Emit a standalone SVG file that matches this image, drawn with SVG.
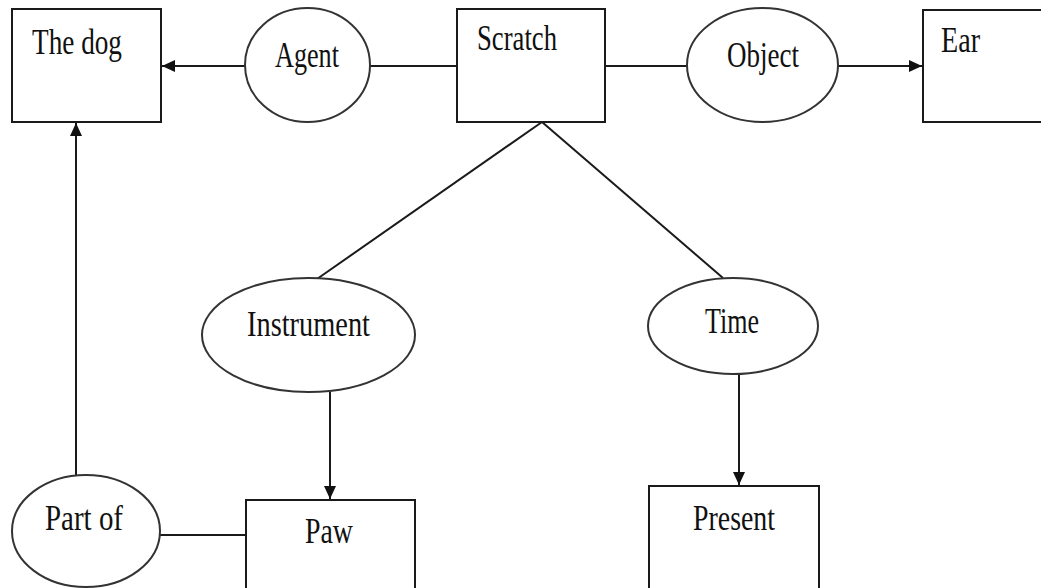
<svg xmlns="http://www.w3.org/2000/svg" width="1041" height="588" viewBox="0 0 1041 588">
  <style>
    .box { fill: #ffffff; stroke: #1a1a1a; stroke-width: 2; }
    .oval { fill: #ffffff; stroke: #333333; stroke-width: 2; }
    .edge { fill: none; stroke: #1a1a1a; stroke-width: 2; }
    .lbl { font-family: "Liberation Serif", "Times New Roman", serif; font-size: 28px; fill: #111111; }
  </style>
  <defs>
    <marker id="arrow" markerUnits="userSpaceOnUse" markerWidth="14" markerHeight="12" refX="13" refY="6" orient="auto">
      <path d="M0,0 L13,6 L0,12 Z" fill="#111111"/>
    </marker>
  </defs>
  <rect width="1041" height="588" fill="#ffffff"/>

  <!-- connectors -->
  <g id="connectors">
    <line class="edge" x1="245" y1="66" x2="162" y2="66" marker-end="url(#arrow)"/>
    <line class="edge" x1="370" y1="66" x2="457" y2="66"/>
    <line class="edge" x1="605" y1="66" x2="687" y2="66"/>
    <line class="edge" x1="838" y1="66" x2="922" y2="66" marker-end="url(#arrow)"/>
    <line class="edge" x1="542" y1="122" x2="317" y2="279"/>
    <line class="edge" x1="542" y1="122" x2="723" y2="278"/>
    <line class="edge" x1="330" y1="392" x2="330" y2="499" marker-end="url(#arrow)"/>
    <line class="edge" x1="739" y1="374" x2="739" y2="485" marker-end="url(#arrow)"/>
    <line class="edge" x1="76" y1="476" x2="76" y2="123" marker-end="url(#arrow)"/>
    <line class="edge" x1="160" y1="535" x2="246" y2="535"/>
  </g>

  <!-- concept boxes -->
  <g id="the-dog">
    <rect class="box" x="12" y="9" width="149" height="113"/>
    <text class="lbl" transform="translate(32 54) scale(1 1.3)" textLength="90" lengthAdjust="spacingAndGlyphs">The dog</text>
  </g>
  <g id="scratch">
    <rect class="box" x="457" y="9" width="148" height="113"/>
    <text class="lbl" transform="translate(477 50) scale(1 1.3)" textLength="80" lengthAdjust="spacingAndGlyphs">Scratch</text>
  </g>
  <g id="ear">
    <rect class="box" x="923" y="10" width="140" height="112"/>
    <text class="lbl" transform="translate(941 52) scale(1 1.3)" textLength="39" lengthAdjust="spacingAndGlyphs">Ear</text>
  </g>
  <g id="paw">
    <rect class="box" x="246" y="500" width="169" height="110"/>
    <text class="lbl" transform="translate(305 543) scale(1 1.3)" textLength="48" lengthAdjust="spacingAndGlyphs">Paw</text>
  </g>
  <g id="present">
    <rect class="box" x="649" y="486" width="170" height="124"/>
    <text class="lbl" transform="translate(693 530) scale(1 1.3)" textLength="82" lengthAdjust="spacingAndGlyphs">Present</text>
  </g>

  <!-- relation ovals -->
  <g id="agent">
    <ellipse class="oval" cx="307.5" cy="65" rx="62.5" ry="57"/>
    <text class="lbl" transform="translate(275 67) scale(1 1.3)" textLength="64" lengthAdjust="spacingAndGlyphs">Agent</text>
  </g>
  <g id="object">
    <ellipse class="oval" cx="762.5" cy="65" rx="75.5" ry="57"/>
    <text class="lbl" transform="translate(727 67) scale(1 1.3)" textLength="72" lengthAdjust="spacingAndGlyphs">Object</text>
  </g>
  <g id="instrument">
    <ellipse class="oval" cx="308.5" cy="335" rx="106.5" ry="57"/>
    <text class="lbl" transform="translate(247 336) scale(1 1.3)" textLength="123" lengthAdjust="spacingAndGlyphs">Instrument</text>
  </g>
  <g id="time">
    <ellipse class="oval" cx="733" cy="326" rx="85" ry="48"/>
    <text class="lbl" transform="translate(705 333) scale(1 1.3)" textLength="54" lengthAdjust="spacingAndGlyphs">Time</text>
  </g>
  <g id="part-of">
    <ellipse class="oval" cx="86" cy="531" rx="74" ry="56"/>
    <text class="lbl" transform="translate(45 530) scale(1 1.3)" textLength="78" lengthAdjust="spacingAndGlyphs">Part of</text>
  </g>
</svg>
